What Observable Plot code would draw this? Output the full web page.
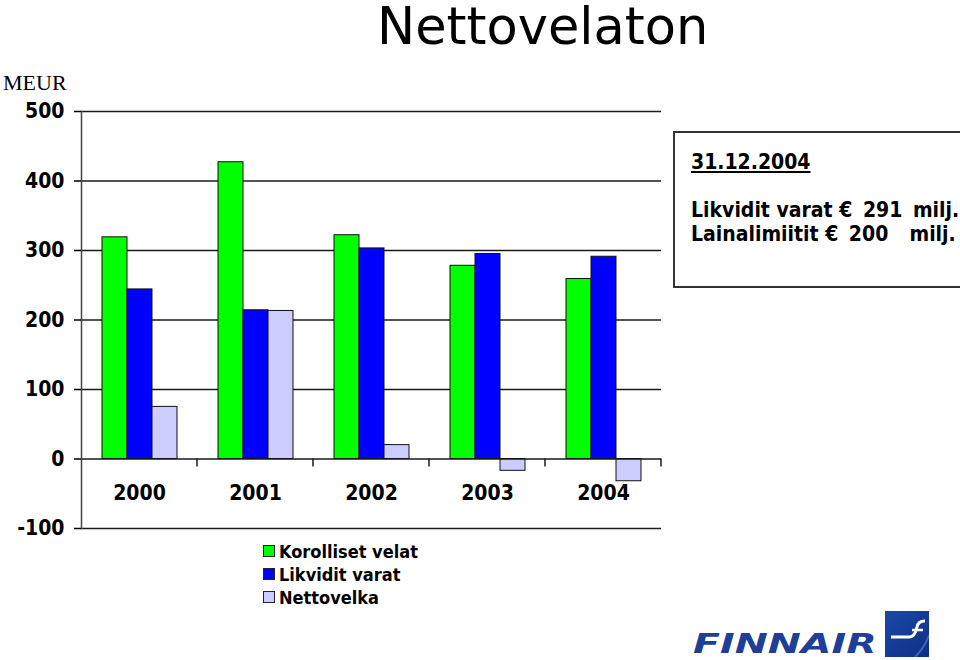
<!DOCTYPE html>
<html><head><meta charset="utf-8">
<script src="https://cdn.jsdelivr.net/npm/d3@7"></script>
<script src="https://cdn.jsdelivr.net/npm/@observablehq/plot@0.6"></script>
<style>
html,body{margin:0;padding:0;background:#fff;overflow:hidden;}
#page{position:relative;width:960px;height:660px;overflow:hidden;background:#fff;}
#chart{position:absolute;left:0;top:0;}
.abs{position:absolute;white-space:pre;line-height:1;}
.bold{font-family:"DejaVu Sans Condensed","DejaVu Sans",sans-serif;font-weight:bold;color:#000;}
#title{left:377px;top:0px;font-family:"DejaVu Sans",sans-serif;font-size:51px;line-height:1.05;color:#000;}
#meur{left:3px;top:72px;font-family:"Liberation Serif",serif;font-size:22px;color:#000;}
#box{position:absolute;left:673px;top:131px;width:320px;height:157px;border:2px solid #333;box-sizing:border-box;}
.sw{position:absolute;width:12px;height:12px;box-sizing:border-box;border:1px solid #222;}
#logoText{left:693px;top:631px;font-family:"DejaVu Sans",sans-serif;font-weight:bold;font-style:italic;font-size:26px;line-height:1;color:#1d3f97;transform:scaleX(1.52);transform-origin:left top;}
#logoMark{position:absolute;left:885px;top:611px;}
</style></head>
<body><div id="page">
<div id="chart"></div>
<div class="abs" id="title">Nettovelaton</div>
<div class="abs" id="meur">MEUR</div>
<div id="box"></div>
<div id="notes"></div>
<div id="legend"></div>
<div class="abs" id="logoText">FINNAIR</div>
<svg id="logoMark" width="44" height="46" viewBox="0 0 44 46">
  <defs><linearGradient id="lg" x1="0" y1="0" x2="1" y2="1"><stop offset="0" stop-color="#1b49a8"/><stop offset="1" stop-color="#0c2f85"/></linearGradient></defs>
  <rect width="44" height="46" fill="url(#lg)"/>
  <path d="M6 26 L24 26 Q30 26 32 16 Q33 10 40 10" fill="none" stroke="#fff" stroke-width="3"/>
  <path d="M27 19 L38 19" fill="none" stroke="#fff" stroke-width="2.5"/>
  <path d="M30 46 Q40 36 44 24" fill="none" stroke="#5d86cf" stroke-width="2" opacity="0.6"/>
</svg>
</div>
<script>
const years = ["2000", "2001", "2002", "2003", "2004"];
const seriesNames = ["Korolliset velat", "Likvidit varat", "Nettovelka"];
const seriesColors = ["#00ff00", "#0000ff", "#ccccff"];
const korollisetVelat = [319, 427, 322, 278, 259];
const likviditVarat = [244, 214, 303, 295, 291];
const nettovelka = [75, 213, 20, -17, -32];
const yTicks = [-100, 0, 100, 200, 300, 400, 500];
const gridTicks = [-100, 100, 200, 300, 400, 500];
const noteDate = "31.12.2004";
const noteLabels = ["Likvidit varat ", "Lainalimiitit "];
const noteAmounts = ["€ 291 milj.", "€ 200  milj."];

const seriesValues = [korollisetVelat, likviditVarat, nettovelka];
const rows = years.flatMap((yr, i) => seriesNames.map((s, j) => ({year: yr, series: s, value: seriesValues[j][i]})));

// category boundary ticks below the zero line (one per facet, at its right edge)
function boundaryTicks(index, scales) {
  const {x, y} = scales;
  const xr = x.range()[1];
  const g = d3.create("svg:g");
  g.append("line").attr("x1", xr).attr("x2", xr).attr("y1", y(0)).attr("y2", y(0) + 8)
    .attr("stroke", "#1a1a1a").attr("stroke-width", 1.5);
  return g.node();
}

const chart = Plot.plot({
  width: 960, height: 660,
  marginLeft: 79, marginRight: 297, marginTop: 111, marginBottom: 132,
  style: {fontFamily: "'DejaVu Sans Condensed','DejaVu Sans',sans-serif", fontWeight: "bold", fontSize: "21px", color: "#000", background: "transparent", overflow: "visible"},
  fx: {domain: years, paddingInner: 0, paddingOuter: 0, axis: null, label: null},
  x: {domain: seriesNames, paddingInner: 0, paddingOuter: 0.75, axis: null, label: null},
  y: {domain: [-100, 500], axis: null, label: null},
  color: {domain: seriesNames, range: seriesColors},
  marks: [
    Plot.ruleY(gridTicks, {stroke: "#1a1a1a", strokeWidth: 1.5}),
    Plot.barY(rows, {fx: "year", x: "series", y: "value", fill: "series", stroke: "#111", strokeWidth: 1}),
    Plot.ruleY([0], {stroke: "#1a1a1a", strokeWidth: 1.5}),
    boundaryTicks,
    Plot.frame({anchor: "left", facet: "super", stroke: "#444", strokeWidth: 1.5}),
    Plot.axisY({ticks: yTicks, tickSize: 7, tickPadding: 10, tickFormat: d => String(d), label: null, fontSize: 21, strokeWidth: 1.5}),
    Plot.text(years, {fx: d => d, text: d => d, frameAnchor: "bottom", dy: -29, fontSize: 21, fill: "#000"})
  ]
});
document.getElementById("chart").appendChild(chart);

// annotation box texts
const notes = document.getElementById("notes");
const d0 = document.createElement("div");
d0.className = "abs bold"; d0.textContent = noteDate;
Object.assign(d0.style, {left: "691px", top: "152px", fontSize: "21px", textDecoration: "underline"});
notes.appendChild(d0);
noteLabels.forEach((t, i) => {
  const d = document.createElement("div");
  d.className = "abs bold";
  Object.assign(d.style, {left: "691px", top: (200 + i * 24) + "px", fontSize: "21px"});
  const a = document.createElement("span"); a.textContent = t;
  const b = document.createElement("span"); b.textContent = noteAmounts[i];
  b.style.wordSpacing = "4px";
  d.appendChild(a); d.appendChild(b);
  notes.appendChild(d);
});

// legend
const legend = document.getElementById("legend");
seriesNames.forEach((s, i) => {
  const sw = document.createElement("div");
  sw.className = "sw";
  Object.assign(sw.style, {left: "263px", top: (545 + i * 23) + "px", background: seriesColors[i]});
  legend.appendChild(sw);
  const t = document.createElement("div");
  t.className = "abs bold"; t.textContent = s;
  Object.assign(t.style, {left: "279px", top: (543 + i * 23) + "px", fontSize: "18px"});
  legend.appendChild(t);
});
</script>
</body></html>
